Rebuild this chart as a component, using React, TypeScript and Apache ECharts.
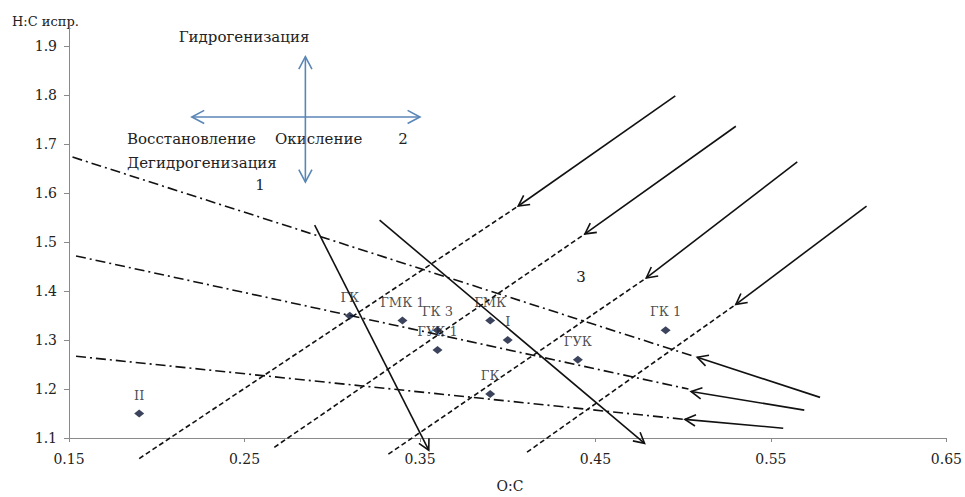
import React, { useEffect, useRef } from "react";
import * as echarts from "echarts";

// Axis settings
const X_MIN = 0.15;
const X_MAX = 0.65;
const X_STEP = 0.1;
const Y_MIN = 1.1;
const Y_MAX = 1.95;
const Y_STEP = 0.1;

// Points (O:C, H:C испр.)
const pointLabels = ["II", "ГК", "ГМК 1", "ГК 3", "ГУК 1", "ГМК", "I", "ГУК", "ГК 1", "ГК"];
const pointOC = [0.19, 0.31, 0.34, 0.36, 0.36, 0.39, 0.4, 0.44, 0.49, 0.39];
const pointHC = [1.15, 1.35, 1.34, 1.32, 1.28, 1.34, 1.3, 1.26, 1.32, 1.19];

// Dash-dot boundary lines [[x1,y1],[x2,y2]]
const dashDotLines = [
  [[0.152, 1.674], [0.505, 1.268]],
  [[0.154, 1.472], [0.503, 1.2]],
  [[0.154, 1.267], [0.501, 1.138]],
];

// Dashed diagonal lines
const dashedLines = [
  [[0.19, 1.058], [0.406, 1.574]],
  [[0.267, 1.081], [0.444, 1.517]],
  [[0.332, 1.067], [0.479, 1.427]],
  [[0.411, 1.071], [0.53, 1.373]],
];

// Black arrows [x1, y1, x2(tip), y2(tip)]
const blackArrows = [
  [0.578, 1.183, 0.508, 1.265],
  [0.569, 1.157, 0.5045, 1.195],
  [0.557, 1.12, 0.501, 1.138],
  [0.4955, 1.799, 0.406, 1.574],
  [0.53, 1.737, 0.444, 1.517],
  [0.565, 1.664, 0.479, 1.427],
  [0.6045, 1.574, 0.53, 1.373],
  [0.29, 1.535, 0.355, 1.075],
  [0.327, 1.545, 0.478, 1.089],
];

// Blue double-headed arrows (cross)
const blueArrows = [
  [0.22, 1.756, 0.35, 1.756],
  [0.2847, 1.879, 0.2847, 1.623],
];

const FONT = "DejaVu Serif";
const TEXT_COLOR = "#222";

function arrowRender(color: string, width: number, headLen: number, both: boolean) {
  return (params: any, api: any) => {
    const p1 = api.coord([api.value(0), api.value(1)]);
    const p2 = api.coord([api.value(2), api.value(3)]);
    const ang = Math.atan2(p2[1] - p1[1], p2[0] - p1[0]);
    const th = (28 * Math.PI) / 180;
    const head = (tip: number[], a: number) => [
      [tip[0] - headLen * Math.cos(a - th), tip[1] - headLen * Math.sin(a - th)],
      [tip[0], tip[1]],
      [tip[0] - headLen * Math.cos(a + th), tip[1] - headLen * Math.sin(a + th)],
    ];
    const children: any[] = [
      {
        type: "line",
        shape: { x1: p1[0], y1: p1[1], x2: p2[0], y2: p2[1] },
        style: { stroke: color, lineWidth: width },
      },
      {
        type: "polyline",
        shape: { points: head(p2, ang) },
        style: { stroke: color, lineWidth: width, fill: null },
      },
    ];
    if (both) {
      children.push({
        type: "polyline",
        shape: { points: head(p1, ang + Math.PI) },
        style: { stroke: color, lineWidth: width, fill: null },
      });
    }
    return { type: "group", children };
  };
}

export default function App() {
  const ref = useRef<HTMLDivElement>(null);

  useEffect(() => {
    if (!ref.current) return;
    const chart = echarts.init(ref.current, null, { renderer: "svg" });

    const lineSeries = (pts: number[][], dash: number[], z: number) => ({
      type: "line",
      data: pts,
      symbol: "none",
      silent: true,
      clip: false,
      z,
      lineStyle: { color: "#111", width: 1.6, type: dash },
    });

    const ann = (text: string, x: number, y: number, align: string, size = 15) => ({
      type: "text",
      x,
      y,
      style: { text, font: `${size}px "${FONT}"`, fill: TEXT_COLOR, textAlign: align, textVerticalAlign: "middle" },
    });

    const option: any = {
      animation: false,
      backgroundColor: "#fff",
      grid: { left: 69, right: 16, top: 22, bottom: 59, containLabel: false },
      xAxis: {
        type: "value",
        min: X_MIN,
        max: X_MAX,
        interval: X_STEP,
        splitLine: { show: false },
        axisLine: { lineStyle: { color: "#8a8a8a", width: 1 } },
        axisTick: { show: true, length: 4, lineStyle: { color: "#8a8a8a" } },
        axisLabel: {
          color: TEXT_COLOR,
          fontFamily: FONT,
          fontSize: 14,
          margin: 14,
          formatter: (v: number) => v.toFixed(2),
        },
      },
      yAxis: {
        type: "value",
        min: Y_MIN,
        max: Y_MAX,
        interval: Y_STEP,
        splitLine: { show: false },
        axisLine: { show: true, lineStyle: { color: "#8a8a8a", width: 1 } },
        axisTick: { show: true, length: 5, lineStyle: { color: "#8a8a8a" } },
        axisLabel: {
          color: TEXT_COLOR,
          fontFamily: FONT,
          fontSize: 14,
          margin: 12,
          showMaxLabel: false,
          formatter: (v: number) => v.toFixed(1),
        },
      },
      series: [
        ...dashDotLines.map((l) => lineSeries(l, [10, 4, 2, 4], 2)),
        ...dashedLines.map((l) => lineSeries(l, [5, 3], 2)),
        {
          type: "custom",
          clip: false,
          silent: true,
          z: 3,
          encode: { x: [0, 2], y: [1, 3] },
          data: blackArrows,
          renderItem: arrowRender("#111", 1.6, 12, false),
        },
        {
          type: "custom",
          clip: false,
          silent: true,
          z: 3,
          encode: { x: [0, 2], y: [1, 3] },
          data: blueArrows,
          renderItem: arrowRender("#5a86b6", 1.6, 14, true),
        },
        {
          type: "scatter",
          symbol: "diamond",
          symbolSize: [10, 8],
          z: 5,
          itemStyle: { color: "#0b1535" },
          data: pointOC.map((x, i) => ({ value: [x, pointHC[i]], name: pointLabels[i] })),
          label: {
            show: true,
            position: "top",
            distance: 8,
            formatter: (p: any) => p.name,
            color: TEXT_COLOR,
            fontFamily: FONT,
            fontSize: 13,
          },
        },
      ],
      graphic: [
        { type: "text", left: 12, top: 15, style: { text: "H:C испр.", font: `13px "${FONT}"`, fill: TEXT_COLOR } },
        ann("O:C", 510, 486, "center", 14),
        ann("Гидрогенизация", 244, 37, "center"),
        ann("Восстановление", 127, 139, "left"),
        ann("Окисление", 275, 139, "left"),
        ann("2", 403, 139, "center"),
        ann("Дегидрогенизация", 127, 163, "left"),
        ann("1", 260, 185, "center"),
        ann("3", 581, 277, "center"),
      ],
    };

    chart.setOption(option);
    return () => chart.dispose();
  }, []);

  return (
    <div
      ref={ref}
      style={{ position: "fixed", left: 0, top: 0, width: 965, height: 497, background: "#fff" }}
    />
  );
}
